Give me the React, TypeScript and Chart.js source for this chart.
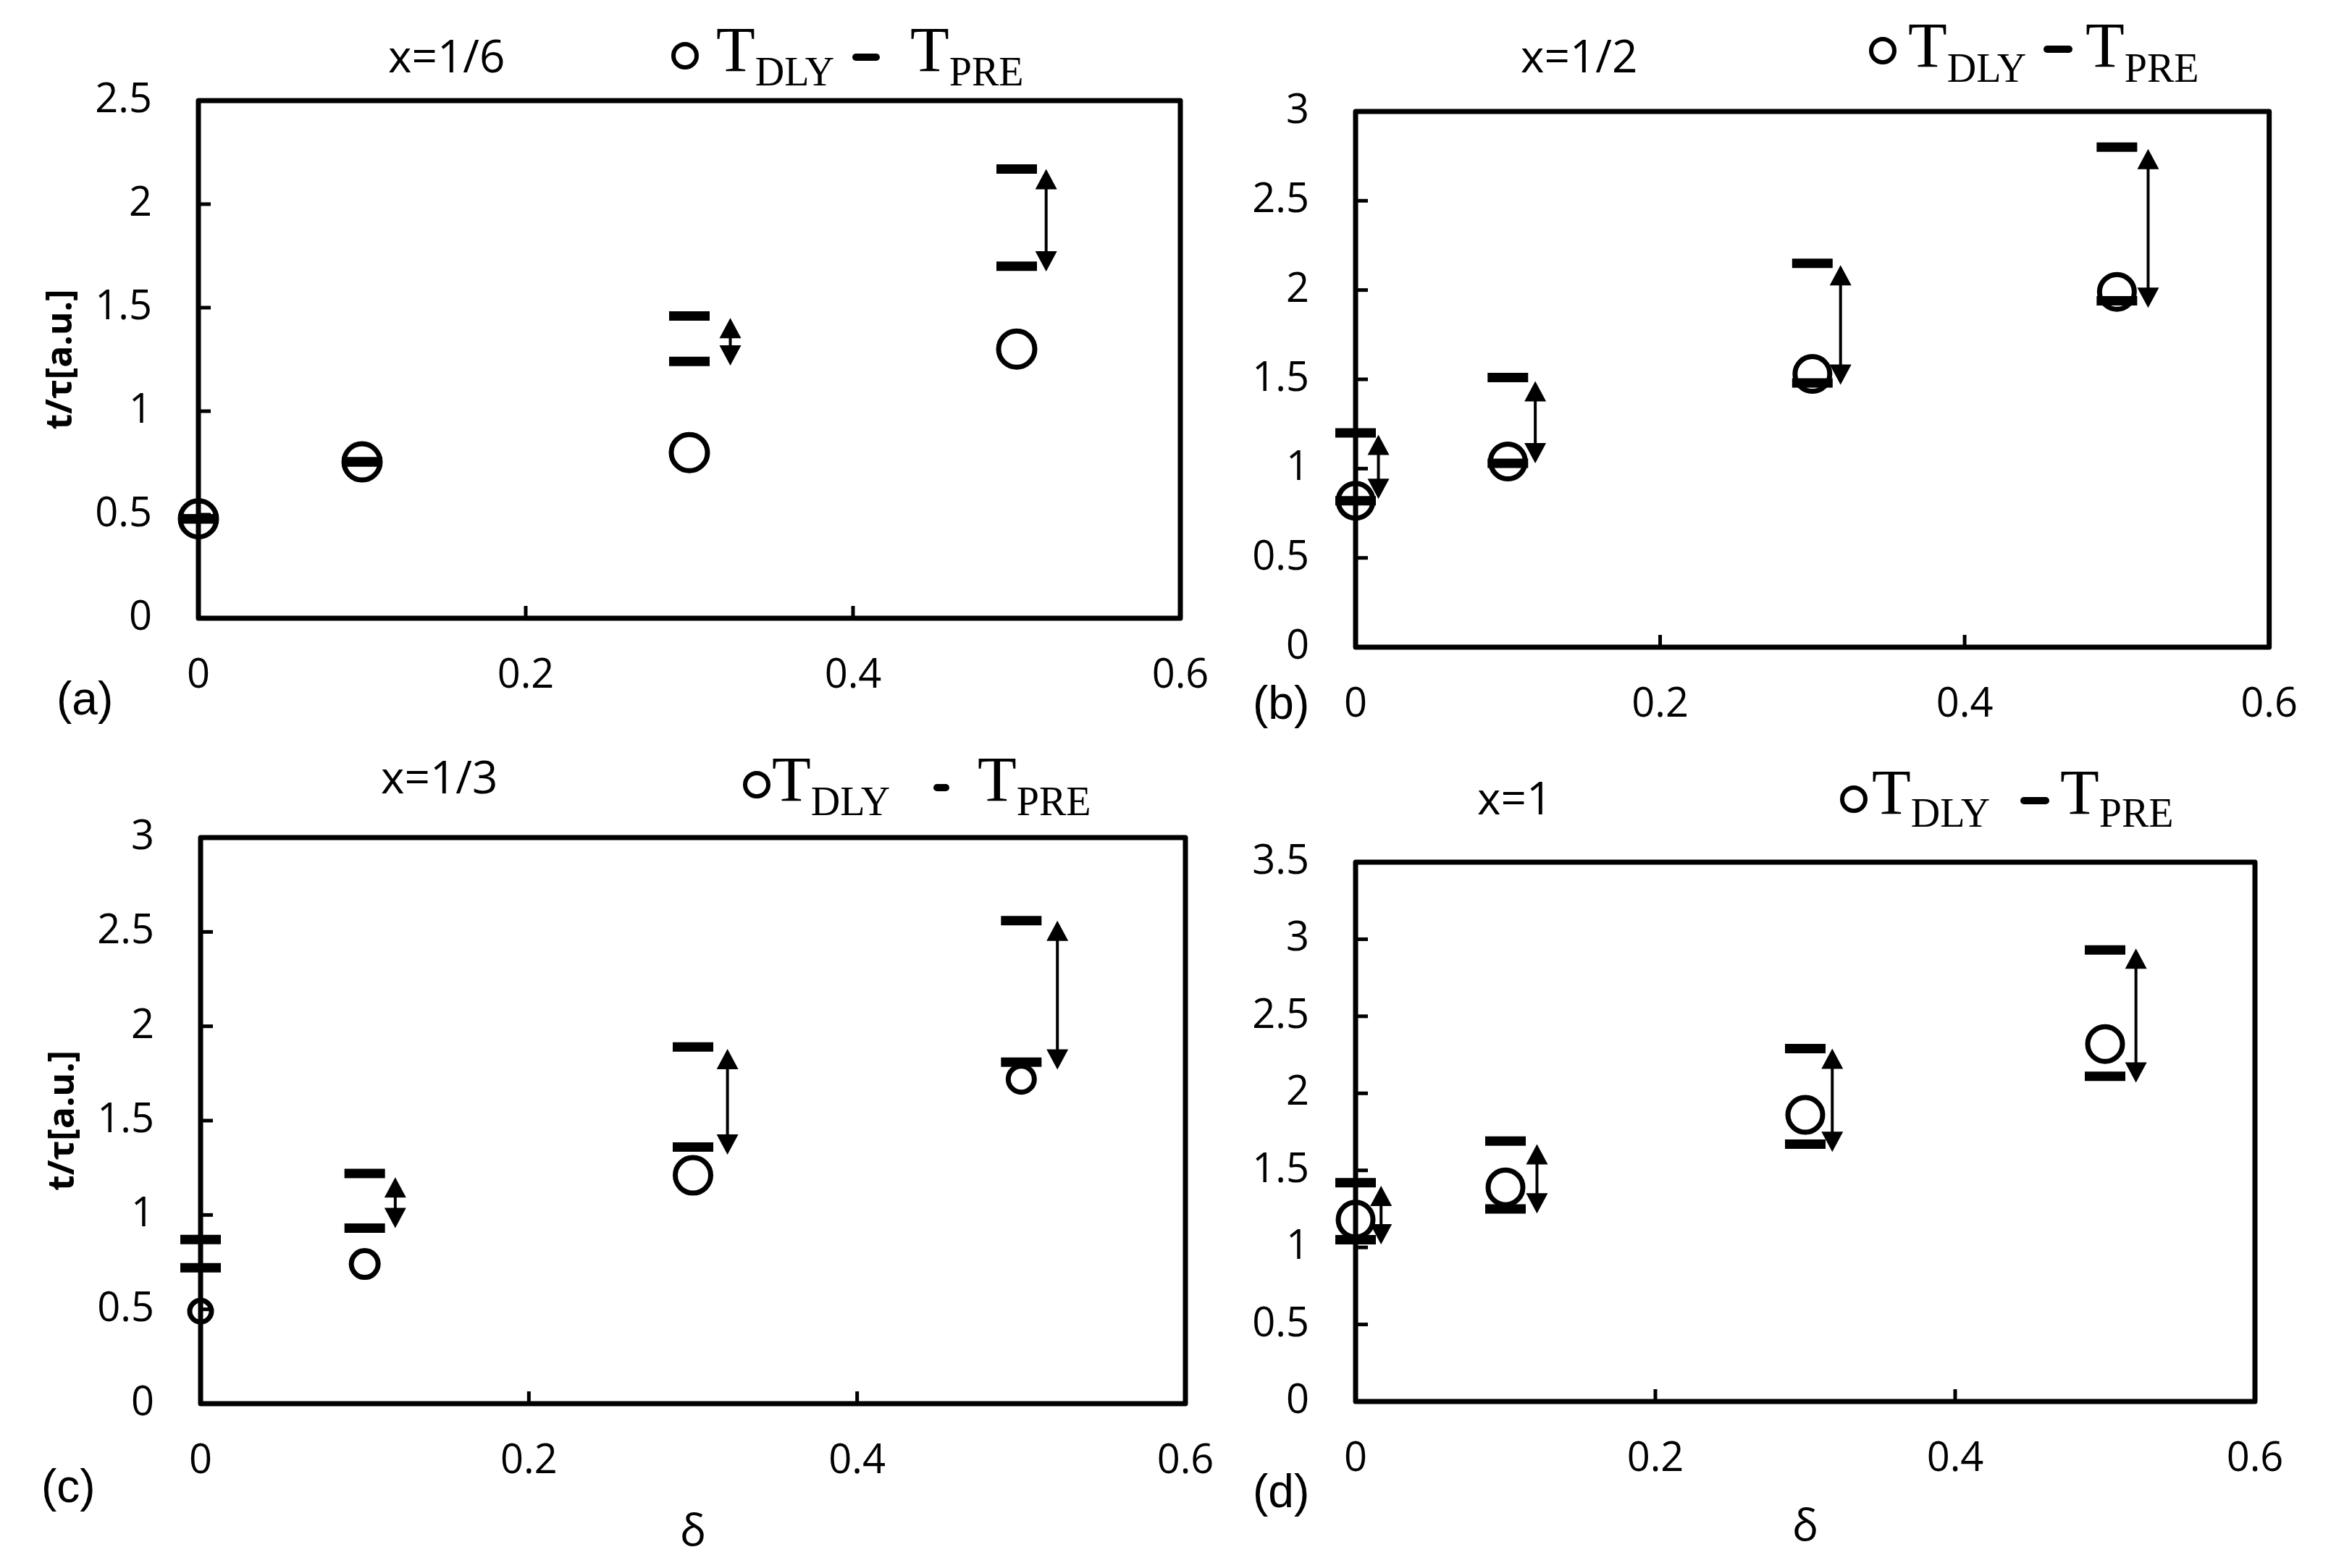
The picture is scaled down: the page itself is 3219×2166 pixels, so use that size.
import React, { useEffect, useRef } from "react";
import { Chart, registerables } from "chart.js";

Chart.register(...registerables);

const PAGE_W = 3219;
const PAGE_H = 2166;

// ---------- shared axis data ----------
const deltaValues = [0, 0.1, 0.3, 0.5];
const xTickValues = [0, 0.2, 0.4, 0.6];
const xTickLabels = ["0", "0.2", "0.4", "0.6"];

// ---------- panel (a): x = 1/6 ----------
const dlyA = [0.48, 0.755, 0.8, 1.3];
const preHighA = [0.48, 0.755, 1.46, 2.17];
const preLowA = [0.48, 0.755, 1.24, 1.7];
const arrowXA = [0.325, 0.518];
const arrowTopA = [1.45, 2.17];
const arrowBottomA = [1.22, 1.675];
const yTicksA = [0, 0.5, 1, 1.5, 2, 2.5];
const yTickLabelsA = ["0", "0.5", "1", "1.5", "2", "2.5"];

// ---------- panel (b): x = 1/2 ----------
const dlyB = [0.82, 1.04, 1.53, 1.99];
const preHighB = [1.2, 1.51, 2.15, 2.8];
const preLowB = [0.82, 1.03, 1.48, 1.94];
const arrowXB = [0.015, 0.118, 0.3185, 0.5205];
const arrowTopB = [1.19, 1.49, 2.14, 2.79];
const arrowBottomB = [0.83, 1.03, 1.47, 1.9];
const yTicksB = [0, 0.5, 1, 1.5, 2, 2.5, 3];
const yTickLabelsB = ["0", "0.5", "1", "1.5", "2", "2.5", "3"];

// ---------- panel (c): x = 1/3 ----------
const dlyC = [0.49, 0.74, 1.21, 1.72];
const preHighC = [0.87, 1.22, 1.89, 2.56];
const preLowC = [0.72, 0.93, 1.36, 1.81];
const arrowXC = [0.1186, 0.321, 0.522];
const arrowTopC = [1.2, 1.88, 2.56];
const arrowBottomC = [0.93, 1.32, 1.77];
const yTicksC = [0, 0.5, 1, 1.5, 2, 2.5, 3];
const yTickLabelsC = ["0", "0.5", "1", "1.5", "2", "2.5", "3"];

// ---------- panel (d): x = 1 ----------
const dlyD = [1.18, 1.39, 1.86, 2.32];
const preHighD = [1.42, 1.69, 2.29, 2.93];
const preLowD = [1.05, 1.25, 1.67, 2.11];
const arrowXD = [0.017, 0.121, 0.318, 0.5206];
const arrowTopD = [1.4, 1.67, 2.29, 2.94];
const arrowBottomD = [1.02, 1.22, 1.62, 2.07];
const yTicksD = [0, 0.5, 1, 1.5, 2, 2.5, 3, 3.5];
const yTickLabelsD = ["0", "0.5", "1", "1.5", "2", "2.5", "3", "3.5"];

const Y_AXIS_W = 274;
const X_AXIS_H = 220;
const TICK_FONT = "'Open Sans', sans-serif";
const SERIF = "'Liberation Serif', 'Times New Roman', serif";

type PanelCfg = {
  dly: number[];
  preHigh: number[];
  preLow: number[];
  arrowX: number[];
  arrowTop: number[];
  arrowBottom: number[];
  yTicks: number[];
  yTickLabels: string[];
  area: { l: number; t: number; r: number; b: number };
  circleR: number | number[];
  yTitle: boolean;
  xTitle: boolean;
  xTitlePad: number;
  sub: { text: string; x: number; y: number };
  leg: { cx: number; cy: number; t1: number; base: number; subBase: number; d1: number; d2: number; dy: number; t2: number };
  label: { text: string; x: number; y: number };
};

const panels: PanelCfg[] = [
  {
    dly: dlyA, preHigh: preHighA, preLow: preLowA,
    arrowX: arrowXA, arrowTop: arrowTopA, arrowBottom: arrowBottomA,
    yTicks: yTicksA, yTickLabels: yTickLabelsA,
    area: { l: 274, t: 139, r: 1630, b: 854 },
    circleR: 25,
    yTitle: true, xTitle: false, xTitlePad: 0,
    sub: { text: "x=1/6", x: 536, y: 100 },
    leg: { cx: 946, cy: 77, t1: 989, base: 98, subBase: 118, d1: 1177, d2: 1215, dy: 79, t2: 1257 },
    label: { text: "(a)", x: 78, y: 987 },
  },
  {
    dly: dlyB, preHigh: preHighB, preLow: preLowB,
    arrowX: arrowXB, arrowTop: arrowTopB, arrowBottom: arrowBottomB,
    yTicks: yTicksB, yTickLabels: yTickLabelsB,
    area: { l: 1872, t: 154, r: 3140, b: 894 },
    circleR: 24,
    yTitle: false, xTitle: false, xTitlePad: 0,
    sub: { text: "x=1/2", x: 2100, y: 100 },
    leg: { cx: 2600, cy: 70, t1: 2635, base: 92, subBase: 113, d1: 2822, d2: 2862, dy: 68, t2: 2880 },
    label: { text: "(b)", x: 1730, y: 993 },
  },
  {
    dly: dlyC, preHigh: preHighC, preLow: preLowC,
    arrowX: arrowXC, arrowTop: arrowTopC, arrowBottom: arrowBottomC,
    yTicks: yTicksC, yTickLabels: yTickLabelsC,
    area: { l: 277, t: 1157, r: 1637, b: 1939 },
    circleR: [15, 18.5, 24.5, 18],
    yTitle: true, xTitle: true, xTitlePad: 5,
    sub: { text: "x=1/3", x: 526, y: 1096 },
    leg: { cx: 1045, cy: 1084, t1: 1066, base: 1106, subBase: 1126, d1: 1289, d2: 1311, dy: 1088, t2: 1350 },
    label: { text: "(c)", x: 57, y: 2075 },
  },
  {
    dly: dlyD, preHigh: preHighD, preLow: preLowD,
    arrowX: arrowXD, arrowTop: arrowTopD, arrowBottom: arrowBottomD,
    yTicks: yTicksD, yTickLabels: yTickLabelsD,
    area: { l: 1872, t: 1191, r: 3114, b: 1936 },
    circleR: 24,
    yTitle: false, xTitle: true, xTitlePad: 9,
    sub: { text: "x=1", x: 2040, y: 1125 },
    leg: { cx: 2560, cy: 1104, t1: 2585, base: 1124, subBase: 1142, d1: 2790, d2: 2830, dy: 1106, t2: 2845 },
    label: { text: "(d)", x: 1730, y: 2082 },
  },
];

const decorPlugin = {
  id: "decor",
  afterDatasetsDraw(chart: any, _args: any, opts: any) {
    const cfg: PanelCfg = opts.cfg;
    const { ctx, chartArea: a } = chart;
    const xs = chart.scales.x;
    const ys = chart.scales.y;
    ctx.save();
    ctx.strokeStyle = "#000";
    ctx.fillStyle = "#000";

    // double-headed arrows
    const hl = 28;
    const hw = 15;
    cfg.arrowX.forEach((ax, i) => {
      const px = xs.getPixelForValue(ax);
      const y1 = ys.getPixelForValue(cfg.arrowTop[i]);
      const y2 = ys.getPixelForValue(cfg.arrowBottom[i]);
      ctx.lineWidth = 4;
      ctx.lineCap = "butt";
      ctx.beginPath();
      ctx.moveTo(px, y1 + hl - 2);
      ctx.lineTo(px, y2 - hl + 2);
      ctx.stroke();
      ctx.beginPath();
      ctx.moveTo(px, y1);
      ctx.lineTo(px - hw, y1 + hl);
      ctx.lineTo(px + hw, y1 + hl);
      ctx.closePath();
      ctx.fill();
      ctx.beginPath();
      ctx.moveTo(px, y2);
      ctx.lineTo(px - hw, y2 - hl);
      ctx.lineTo(px + hw, y2 - hl);
      ctx.closePath();
      ctx.fill();
    });

    // frame
    ctx.lineWidth = 7;
    ctx.lineJoin = "round";
    ctx.strokeRect(a.left, a.top, a.right - a.left, a.bottom - a.top);

    // inward tick marks
    ctx.lineWidth = 5;
    xs.ticks.forEach((t: any) => {
      const p = xs.getPixelForValue(t.value);
      ctx.beginPath();
      ctx.moveTo(p, a.bottom);
      ctx.lineTo(p, a.bottom - 17);
      ctx.stroke();
    });
    ys.ticks.forEach((t: any) => {
      const p = ys.getPixelForValue(t.value);
      ctx.beginPath();
      ctx.moveTo(a.left, p);
      ctx.lineTo(a.left + 17, p);
      ctx.stroke();
    });

    // subtitle
    ctx.textAlign = "left";
    ctx.textBaseline = "alphabetic";
    ctx.font = `62px ${TICK_FONT}`;
    ctx.fillText(cfg.sub.text, cfg.sub.x, cfg.sub.y);

    // legend: ○ T_DLY  – T_PRE
    const L = cfg.leg;
    ctx.lineWidth = 6;
    ctx.beginPath();
    ctx.arc(L.cx, L.cy, 16, 0, Math.PI * 2);
    ctx.stroke();
    ctx.font = `88px ${SERIF}`;
    ctx.fillText("T", L.t1, L.base);
    const tw = ctx.measureText("T").width;
    ctx.font = `56px ${SERIF}`;
    ctx.fillText("DLY", L.t1 + tw, L.subBase);
    ctx.lineWidth = 10;
    ctx.lineCap = "round";
    ctx.beginPath();
    ctx.moveTo(L.d1 + 5, L.dy);
    ctx.lineTo(L.d2 - 5, L.dy);
    ctx.stroke();
    ctx.font = `88px ${SERIF}`;
    ctx.fillText("T", L.t2, L.base);
    ctx.font = `56px ${SERIF}`;
    ctx.fillText("PRE", L.t2 + tw, L.subBase);

    // panel label
    ctx.font = `64px 'Liberation Sans', Arial, sans-serif`;
    ctx.fillText(cfg.label.text, cfg.label.x, cfg.label.y);

    ctx.restore();
  },
};

function buildConfig(cfg: PanelCfg): any {
  const toPts = (ys: number[]) => deltaValues.map((d, i) => ({ x: d, y: ys[i] }));
  const yMax = cfg.yTicks[cfg.yTicks.length - 1];
  return {
    type: "scatter",
    data: {
      datasets: [
        {
          label: "T_DLY",
          data: toPts(cfg.dly),
          pointStyle: "circle",
          pointRadius: cfg.circleR,
          pointBorderWidth: 7,
          pointBorderColor: "#000",
          pointBackgroundColor: "rgba(0,0,0,0)",
          clip: false,
        },
        {
          label: "T_PRE upper",
          data: toPts(cfg.preHigh),
          pointStyle: "line",
          pointRadius: 28,
          pointBorderWidth: 13,
          pointBorderColor: "#000",
          pointBackgroundColor: "#000",
          clip: false,
        },
        {
          label: "T_PRE lower",
          data: toPts(cfg.preLow),
          pointStyle: "line",
          pointRadius: 28,
          pointBorderWidth: 13,
          pointBorderColor: "#000",
          pointBackgroundColor: "#000",
          clip: false,
        },
      ],
    },
    options: {
      animation: false,
      responsive: false,
      devicePixelRatio: 1,
      events: [],
      layout: {
        padding: {
          left: cfg.area.l - Y_AXIS_W,
          top: cfg.area.t,
          right: PAGE_W - cfg.area.r,
          bottom: PAGE_H - cfg.area.b - X_AXIS_H,
        },
      },
      plugins: {
        legend: { display: false },
        tooltip: { enabled: false },
        decor: { cfg },
      },
      scales: {
        x: {
          type: "linear",
          min: 0,
          max: 0.6,
          afterBuildTicks: (s: any) => {
            s.ticks = xTickValues.map((v) => ({ value: v }));
          },
          afterFit: (s: any) => {
            s.height = X_AXIS_H;
          },
          grid: { display: false, drawTicks: false },
          border: { display: false },
          ticks: {
            padding: 46,
            autoSkip: false,
            maxRotation: 0,
            color: "#000",
            font: { family: TICK_FONT, size: 56 },
            callback: (_v: any, i: number) => xTickLabels[i],
          },
          title: {
            display: cfg.xTitle,
            text: "δ",
            color: "#000",
            font: { family: TICK_FONT, size: 60 },
            padding: { top: 0, bottom: cfg.xTitlePad },
          },
        },
        y: {
          type: "linear",
          min: 0,
          max: yMax,
          afterBuildTicks: (s: any) => {
            s.ticks = cfg.yTicks.map((v) => ({ value: v }));
          },
          afterFit: (s: any) => {
            s.width = Y_AXIS_W;
          },
          grid: { display: false, drawTicks: false },
          border: { display: false },
          ticks: {
            padding: 64,
            autoSkip: false,
            color: "#000",
            font: { family: TICK_FONT, size: 56 },
            callback: (_v: any, i: number) => cfg.yTickLabels[i],
          },
          title: {
            display: cfg.yTitle,
            text: "t/τ[a.u.]",
            color: "#000",
            font: { family: TICK_FONT, size: 50, weight: "bold" },
            padding: { top: 55, bottom: 0 },
          },
        },
      },
    },
    plugins: [decorPlugin],
  };
}

function Panel({ cfg }: { cfg: PanelCfg }) {
  const ref = useRef<HTMLCanvasElement>(null);
  useEffect(() => {
    let chart: Chart | null = null;
    let cancelled = false;
    const make = () => {
      if (cancelled || !ref.current) return;
      chart = new Chart(ref.current, buildConfig(cfg));
    };
    const fonts = (document as any).fonts;
    if (fonts && fonts.load) {
      Promise.all([
        fonts.load(`56px "Open Sans"`),
        fonts.load(`bold 50px "Open Sans"`),
        fonts.load(`88px "Liberation Serif"`),
        fonts.load(`64px "Liberation Sans"`),
      ]).then(make, make);
    } else {
      make();
    }
    return () => {
      cancelled = true;
      if (chart) chart.destroy();
    };
  }, [cfg]);
  return (
    <canvas
      ref={ref}
      width={PAGE_W}
      height={PAGE_H}
      style={{ position: "absolute", left: 0, top: 0, width: PAGE_W, height: PAGE_H }}
    />
  );
}

export default function App() {
  return (
    <div
      style={{
        position: "absolute",
        left: 0,
        top: 0,
        width: PAGE_W,
        height: PAGE_H,
        background: "#fff",
        overflow: "hidden",
      }}
    >
      {panels.map((p, i) => (
        <Panel key={i} cfg={p} />
      ))}
    </div>
  );
}
